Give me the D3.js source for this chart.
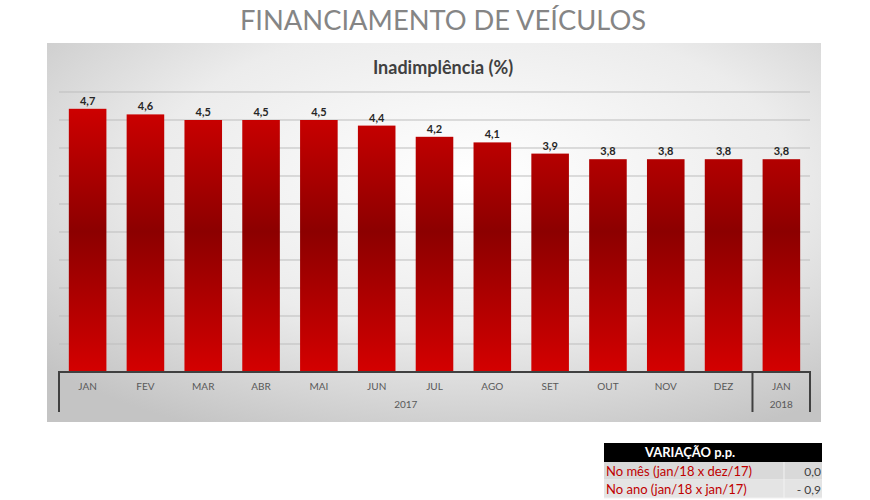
<!DOCTYPE html>
<html>
<head>
<meta charset="utf-8">
<script src="https://cdn.jsdelivr.net/npm/d3@7"></script>
<style>
  body { margin: 0; background: #fff; font-family: Lato, "Open Sans", sans-serif; }
</style>
</head>
<body>
<div id="chart"></div>
<script>
// Dados
const months = ["JAN", "FEV", "MAR", "ABR", "MAI", "JUN", "JUL", "AGO", "SET", "OUT", "NOV", "DEZ", "JAN"];
const years = ["2017", "2017", "2017", "2017", "2017", "2017", "2017", "2017", "2017", "2017", "2017", "2017", "2018"];
const values = [4.7, 4.6, 4.5, 4.5, 4.5, 4.4, 4.2, 4.1, 3.9, 3.8, 3.8, 3.8, 3.8];
const yTicks = [0, 0.5, 1, 1.5, 2, 2.5, 3, 3.5, 4, 4.5, 5];
const tableHeader = "VARIAÇÃO p.p.";
const tableLabels = ["No mês (jan/18 x dez/17)", "No ano (jan/18 x jan/17)"];
const tableValues = ["0,0", "- 0,9"];

const W = 870, H = 500;
const svg = d3.select("#chart").append("svg")
    .attr("width", W)
    .attr("height", H);

const defs = svg.append("defs");

// Fundo do painel
const bg = defs.append("radialGradient")
    .attr("id", "bg")
    .attr("cx", "55%").attr("cy", "35%").attr("r", "75%");
bg.append("stop").attr("offset", "0%").attr("stop-color", "#ffffff");
bg.append("stop").attr("offset", "55%").attr("stop-color", "#ececec");
bg.append("stop").attr("offset", "100%").attr("stop-color", "#c4c4c4");

// Gradiente das barras
const barGrad = defs.append("linearGradient")
    .attr("id", "barGrad")
    .attr("gradientUnits", "userSpaceOnUse")
    .attr("x1", 0).attr("y1", 92).attr("x2", 0).attr("y2", 372);
barGrad.append("stop").attr("offset", "0%").attr("stop-color", "#d60000");
barGrad.append("stop").attr("offset", "50%").attr("stop-color", "#8c0000");
barGrad.append("stop").attr("offset", "100%").attr("stop-color", "#d40000");

// Título principal
svg.append("text")
    .attr("x", 443).attr("y", 30)
    .attr("text-anchor", "middle")
    .attr("font-size", 27.3)
    .attr("fill", "#858585")
    .text("FINANCIAMENTO DE VEÍCULOS");

// Painel
svg.append("rect")
    .attr("x", 47).attr("y", 43)
    .attr("width", 774).attr("height", 379)
    .attr("fill", "url(#bg)");

svg.append("text")
    .attr("x", 443).attr("y", 74)
    .attr("text-anchor", "middle")
    .attr("font-size", 18)
    .attr("font-weight", "bold")
    .attr("fill", "#404040")
    .text("Inadimplência (%)");

// Escalas
const x = d3.scaleBand()
    .domain(d3.range(months.length))
    .range([59, 810])
    .paddingInner(0.35)
    .paddingOuter(0.17);

const y = d3.scaleLinear()
    .domain([0, 5])
    .range([372, 92]);

// Linhas de grade
svg.append("g")
    .selectAll("line")
    .data(yTicks)
    .join("line")
    .attr("x1", 59).attr("x2", 810)
    .attr("y1", d => y(d)).attr("y2", d => y(d))
    .attr("stroke", "#bdbdbd")
    .attr("stroke-width", 1);

// Barras
svg.append("g")
    .selectAll("rect")
    .data(values)
    .join("rect")
    .attr("x", (d, i) => x(i))
    .attr("y", d => y(d))
    .attr("width", x.bandwidth())
    .attr("height", d => y(0) - y(d))
    .attr("fill", "url(#barGrad)");

// Rótulos de valor
svg.append("g")
    .selectAll("text")
    .data(values)
    .join("text")
    .attr("x", (d, i) => x(i) + x.bandwidth() / 2)
    .attr("y", d => y(d) - 4)
    .attr("text-anchor", "middle")
    .attr("font-size", 11)
    .attr("font-weight", "bold")
    .attr("fill", "#262626")
    .text(d => d3.format(".1f")(d).replace(".", ","));

// Eixo x (categorias em dois níveis)
const axisColor = "#404040";
svg.append("line")
    .attr("x1", 58).attr("x2", 811)
    .attr("y1", 372).attr("y2", 372)
    .attr("stroke", axisColor).attr("stroke-width", 2);

svg.append("g")
    .selectAll("text")
    .data(months)
    .join("text")
    .attr("x", (d, i) => x(i) + x.bandwidth() / 2)
    .attr("y", 390)
    .attr("text-anchor", "middle")
    .attr("font-size", 10)
    .attr("fill", "#595959")
    .text(d => d);

const yearGroups = d3.groups(years.map((yr, i) => ({ yr, i })), d => d.yr);
const step = x.step();
const boundaries = [59];
yearGroups.forEach(([yr, items]) => {
    const last = items[items.length - 1].i;
    boundaries.push(x(last) + x.bandwidth() + (step - x.bandwidth()) / 2);
});
boundaries[boundaries.length - 1] = 810;

svg.append("g")
    .selectAll("line")
    .data(boundaries)
    .join("line")
    .attr("x1", d => d).attr("x2", d => d)
    .attr("y1", 372).attr("y2", 412)
    .attr("stroke", axisColor).attr("stroke-width", 2);

svg.append("g")
    .selectAll("text")
    .data(yearGroups)
    .join("text")
    .attr("x", (d, k) => (boundaries[k] + boundaries[k + 1]) / 2)
    .attr("y", 408)
    .attr("text-anchor", "middle")
    .attr("font-size", 10)
    .attr("fill", "#595959")
    .text(d => d[0]);

// Tabela de variação
const tx = 604, tw = 218, colX = 784;
svg.append("rect")
    .attr("x", tx).attr("y", 443)
    .attr("width", tw).attr("height", 19)
    .attr("fill", "#000");
svg.append("text")
    .attr("x", 690).attr("y", 457)
    .attr("text-anchor", "middle")
    .attr("font-size", 13)
    .attr("font-weight", "bold")
    .attr("fill", "#fff")
    .text(tableHeader);

const rowY = [462, 480];
const rows = svg.append("g")
    .selectAll("g")
    .data(tableLabels)
    .join("g");
rows.append("rect")
    .attr("x", tx).attr("y", (d, i) => rowY[i])
    .attr("width", tw).attr("height", 18)
    .attr("fill", (d, i) => i === 0 ? "#d9d9d9" : "#e4e4e4");
rows.append("line")
    .attr("x1", colX).attr("x2", colX)
    .attr("y1", (d, i) => rowY[i]).attr("y2", (d, i) => rowY[i] + 18)
    .attr("stroke", "#f2f2f2");
rows.append("line")
    .attr("x1", tx).attr("x2", tx + tw)
    .attr("y1", (d, i) => rowY[i] + 18).attr("y2", (d, i) => rowY[i] + 18)
    .attr("stroke", "#f2f2f2");
rows.append("text")
    .attr("x", tx + 2).attr("y", (d, i) => rowY[i] + 14)
    .attr("font-size", 13)
    .attr("fill", "#c00000")
    .text(d => d);
rows.append("text")
    .attr("x", 821).attr("y", (d, i) => rowY[i] + 14)
    .attr("text-anchor", "end")
    .attr("font-size", 12)
    .attr("fill", "#404040")
    .text((d, i) => tableValues[i]);
</script>
</body>
</html>
